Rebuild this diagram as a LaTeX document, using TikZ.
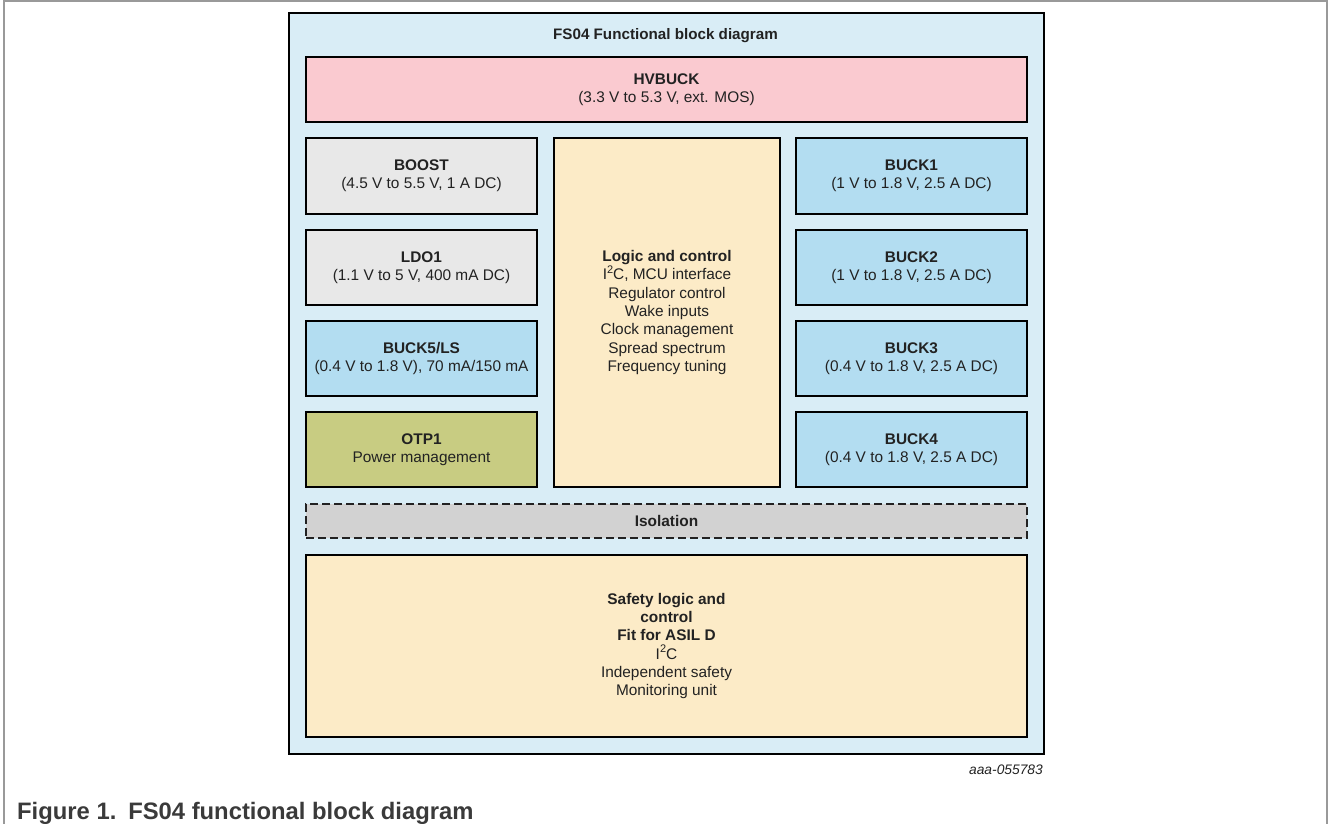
\documentclass[tikz,border=0pt]{standalone}
\usepackage{fontspec}
\setmainfont{Liberation Sans}
\definecolor{outerbg}{HTML}{D9EDF6}
\definecolor{hvpink}{HTML}{FACAD0}
\definecolor{lgray}{HTML}{E8E8E8}
\definecolor{buckblue}{HTML}{B3DDF1}
\definecolor{olive}{HTML}{C8CC82}
\definecolor{logicyel}{HTML}{FCEBC7}
\definecolor{isogray}{HTML}{D2D2D2}
\definecolor{txt}{HTML}{222222}
\definecolor{captxt}{HTML}{3A3A3A}
\definecolor{framegray}{HTML}{999999}
\newcommand{\supertwo}{\raisebox{0.42em}{\fontsize{11}{11}\selectfont 2}}
\tikzset{
  blk/.style={draw=black, line width=2pt, inner sep=0pt, align=center,
    text=txt, font=\fontsize{15.4}{18.3}\selectfont},
}
\begin{document}
\begin{tikzpicture}[x=1pt,y=-1pt]
\useasboundingbox (0,0) rectangle (1333,823);
% page frame
\draw[framegray, line width=1.2pt] (4,830) -- (4,1) -- (1327,1) -- (1327,830);
% outer box
\node[blk, fill=outerbg, minimum width=755pt, minimum height=741pt, anchor=north west] (outer) at (288,12) {};
\node[font=\bfseries\fontsize{15.2}{17}\selectfont, text=txt, inner sep=0pt] (title) at (665.5,36) {FS04 Functional block diagram};
% HVBUCK
\node[blk, fill=hvpink, minimum width=721pt, minimum height=65pt, anchor=north west] (hv) at (305,56)
  {\textbf{HVBUCK}\\(3.3 V to 5.3 V, ext. MOS)};
% left column
\node[blk, fill=lgray, minimum width=231pt, minimum height=76pt, anchor=north west] (boost) at (305,137)
  {\textbf{BOOST}\\(4.5 V to 5.5 V, 1 A DC)};
\node[blk, fill=lgray, minimum width=231pt, minimum height=75pt, anchor=north west] (ldo) at (305,229)
  {\textbf{LDO1}\\(1.1 V to 5 V, 400 mA DC)};
\node[blk, fill=buckblue, minimum width=231pt, minimum height=75pt, anchor=north west] (buck5) at (305,320)
  {\textbf{BUCK5/LS}\\(0.4 V to 1.8 V), 70 mA/150 mA};
\node[blk, fill=olive, minimum width=231pt, minimum height=75pt, anchor=north west] (otp) at (305,411)
  {\textbf{OTP1}\\Power management};
% middle
\node[blk, fill=logicyel, minimum width=226pt, minimum height=349pt, anchor=north west] (logic) at (553,137)
  {\textbf{Logic and control}\\I\supertwo C, MCU interface\\Regulator control\\Wake inputs\\Clock management\\Spread spectrum\\Frequency tuning};
% right column
\node[blk, fill=buckblue, minimum width=231pt, minimum height=76pt, anchor=north west] (buck1) at (795,137)
  {\textbf{BUCK1}\\(1 V to 1.8 V, 2.5 A DC)};
\node[blk, fill=buckblue, minimum width=231pt, minimum height=75pt, anchor=north west] (buck2) at (795,229)
  {\textbf{BUCK2}\\(1 V to 1.8 V, 2.5 A DC)};
\node[blk, fill=buckblue, minimum width=231pt, minimum height=75pt, anchor=north west] (buck3) at (795,320)
  {\textbf{BUCK3}\\(0.4 V to 1.8 V, 2.5 A DC)};
\node[blk, fill=buckblue, minimum width=231pt, minimum height=75pt, anchor=north west] (buck4) at (795,411)
  {\textbf{BUCK4}\\(0.4 V to 1.8 V, 2.5 A DC)};
% isolation
\node[blk, fill=isogray, draw=txt, dash pattern=on 8pt off 4pt, minimum width=721pt, minimum height=34pt, anchor=north west] (iso) at (305,503)
  {\textbf{Isolation}};
% safety
\node[blk, fill=logicyel, minimum width=721pt, minimum height=182pt, anchor=north west] (safety) at (305,554)
  {\textbf{Safety logic and}\\\textbf{control}\\\textbf{Fit for ASIL D}\\I\supertwo C\\Independent safety\\Monitoring unit};
% id
\node[anchor=east, font=\itshape\fontsize{13.8}{15}\selectfont, text=txt, inner sep=0pt] (id) at (1043,770) {aaa-055783};
% caption
\node[anchor=base west, font=\bfseries\fontsize{23.8}{26}\selectfont, text=captxt, inner sep=0pt] (cap) at (17,819) {Figure 1.\hspace{0.5em}FS04 functional block diagram};
\end{tikzpicture}
\end{document}
